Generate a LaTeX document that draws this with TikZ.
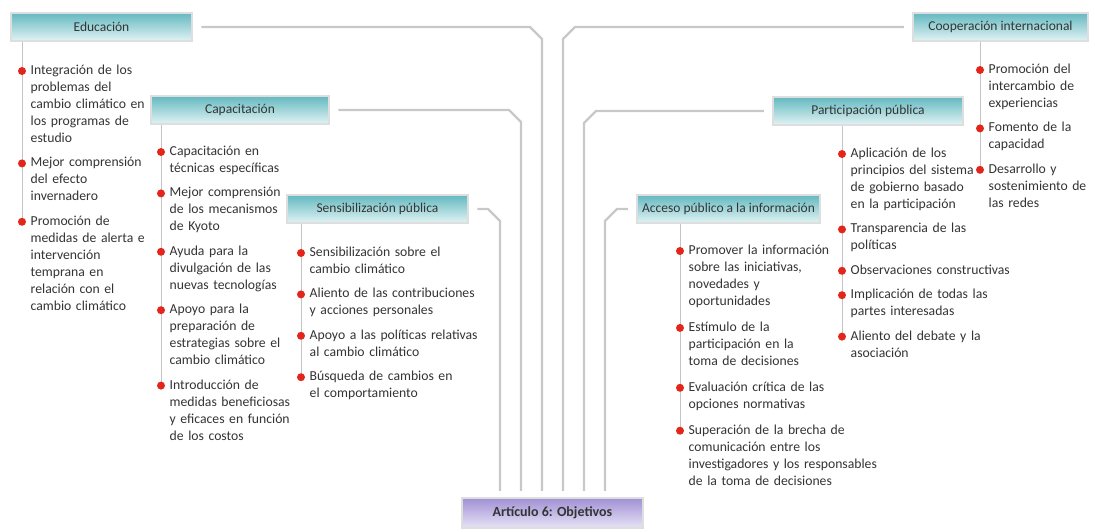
\documentclass[tikz,border=0pt]{standalone}
\usepackage{fontspec}
\setmainfont{Carlito}
\usepackage{tikz}
\usetikzlibrary{positioning}

\definecolor{tealtop}{RGB}{100,185,193}
\definecolor{tealbot}{RGB}{226,243,243}
\definecolor{lilatop}{RGB}{160,144,212}
\definecolor{lilabot}{RGB}{232,227,246}
\definecolor{linkgray}{RGB}{200,200,200}
\definecolor{stemgray}{RGB}{196,196,196}
\definecolor{dotred}{RGB}{226,38,28}
\definecolor{txtgray}{RGB}{52,52,52}

\tikzset{
  head/.style={rectangle, draw=black!13, line width=2.5pt, top color=tealtop, bottom color=tealbot,
    minimum height=28pt, inner sep=0pt, text=txtgray, font=\fontsize{13.5}{15}\selectfont},
  goal/.style={head, top color=lilatop, bottom color=lilabot, minimum height=30pt,
    font=\fontsize{14}{16}\selectfont\bfseries},
  item/.style={anchor=north west, align=left, text width=200pt, inner sep=0pt, text=txtgray,
    font=\fontsize{13.7}{17}\selectfont, execute at begin node=\noindent\strut, execute at end node=\strut},
  link/.style={draw=linkgray, line width=2.4pt},
  stem/.style={draw=stemgray, line width=0.8pt}
}

\begin{document}
\begin{tikzpicture}[x=1pt, y=-1pt]
  \fill[white] (0,0) rectangle (1095,531);
  \useasboundingbox (0,0) rectangle (1095,531);

  % headers
  \node[head, minimum width=181pt] (edu) at (101.5,27) {Educación};
  \node[head, minimum width=178pt] (cap) at (240,110) {Capacitación};
  \node[head, minimum width=181pt] (sen) at (377.5,209) {Sensibilización pública};
  \node[head, minimum width=183pt] (acc) at (728.5,209) {Acceso público a la información};
  \node[head, minimum width=190pt] (par) at (868,111) {Participación pública};
  \node[head, minimum width=175pt] (coo) at (1000.5,27) {Cooperación internacional};
  \node[goal, minimum width=181pt] (obj) at (552.5,513) {Artículo 6: Objetivos};

  % feet of the connectors
  \coordinate (bS) at ([shift={(-52.5pt,6pt)}]obj.north);
  \coordinate (bC) at ([shift={(-31.5pt,6pt)}]obj.north);
  \coordinate (bE) at ([shift={(-10.5pt,6pt)}]obj.north);
  \coordinate (bK) at ([shift={(10.5pt,6pt)}]obj.north);
  \coordinate (bP) at ([shift={(31.5pt,6pt)}]obj.north);
  \coordinate (bA) at ([shift={(52.5pt,6pt)}]obj.north);

  \draw[link] ([xshift=8pt]edu.east) -- ([xshift=-12pt]edu.east -| bE) -- ++(12pt,-12pt) -- (bE);
  \draw[link] ([xshift=8pt]cap.east) -- ([xshift=-12pt]cap.east -| bC) -- ++(12pt,-12pt) -- (bC);
  \draw[link] ([xshift=8pt]sen.east) -- ([xshift=-12pt]sen.east -| bS) -- ++(12pt,-12pt) -- (bS);
  \draw[link] ([xshift=-8pt]coo.west) -- ([xshift=12pt]coo.west -| bK) -- ++(-12pt,-12pt) -- (bK);
  \draw[link] ([xshift=-8pt]par.west) -- ([xshift=12pt]par.west -| bP) -- ++(-12pt,-12pt) -- (bP);
  \draw[link] ([xshift=-8pt]acc.west) -- ([xshift=12pt]acc.west -| bA) -- ++(-12pt,-12pt) -- (bA);

  % Educación
  \node[item] (e1) at (30.5,62.4) {Integración de los\\problemas del\\cambio climático en\\los programas de\\estudio};
  \node[item, below right=7pt and 0pt of e1.south west] (e2) {Mejor comprensión\\del efecto\\invernadero};
  \node[item, below right=7pt and 0pt of e2.south west] (e3) {Promoción de\\medidas de alerta e\\intervención\\temprana en\\relación con el\\cambio climático};

  % Capacitación
  \node[item] (c1) at (169.5,143.4) {Capacitación en\\técnicas específicas};
  \node[item, below right=7pt and 0pt of c1.south west] (c2) {Mejor comprensión\\de los mecanismos\\de Kyoto};
  \node[item, below right=7pt and 0pt of c2.south west] (c3) {Ayuda para la\\divulgación de las\\nuevas tecnologías};
  \node[item, below right=7pt and 0pt of c3.south west] (c4) {Apoyo para la\\preparación de\\estrategias sobre el\\cambio climático};
  \node[item, below right=7pt and 0pt of c4.south west] (c5) {Introducción de\\medidas beneficiosas\\y eficaces en función\\de los costos};

  % Sensibilización pública
  \node[item] (s1) at (309.5,244.4) {Sensibilización sobre el\\cambio climático};
  \node[item, below right=7pt and 0pt of s1.south west] (s2) {Aliento de las contribuciones\\y acciones personales};
  \node[item, below right=7pt and 0pt of s2.south west] (s3) {Apoyo a las políticas relativas\\al cambio climático};
  \node[item, below right=7pt and 0pt of s3.south west] (s4) {Búsqueda de cambios en\\el comportamiento};

  % Acceso público a la información
  \node[item] (a1) at (688.5,242.4) {Promover la información\\sobre las iniciativas,\\novedades y\\oportunidades};
  \node[item, below right=8.5pt and 0pt of a1.south west] (a2) {Estímulo de la\\participación en la\\toma de decisiones};
  \node[item, below right=8.5pt and 0pt of a2.south west] (a3) {Evaluación crítica de las\\opciones normativas};
  \node[item, below right=8.5pt and 0pt of a3.south west] (a4) {Superación de la brecha de\\comunicación entre los\\investigadores y los responsables\\de la toma de decisiones};

  % Participación pública
  \node[item] (p1) at (850.5,145.4) {Aplicación de los\\principios del sistema\\de gobierno basado\\en la participación};
  \node[item, below right=7pt and 0pt of p1.south west] (p2) {Transparencia de las\\políticas};
  \node[item, below right=7pt and 0pt of p2.south west] (p3) {Observaciones constructivas};
  \node[item, below right=7pt and 0pt of p3.south west] (p4) {Implicación de todas las\\partes interesadas};
  \node[item, below right=7pt and 0pt of p4.south west] (p5) {Aliento del debate y la\\asociación};

  % Cooperación internacional
  \node[item] (k1) at (988.5,61.4) {Promoción del\\intercambio de\\experiencias};
  \node[item, below right=7pt and 0pt of k1.south west] (k2) {Fomento de la\\capacidad};
  \node[item, below right=7pt and 0pt of k2.south west] (k3) {Desarrollo y\\sostenimiento de\\las redes};

  % bullets and stems
  \foreach \n in {e1,e2,e3,c1,c2,c3,c4,c5,s1,s2,s3,s4,a1,a2,a3,a4,p1,p2,p3,p4,p5,k1,k2,k3}
    \coordinate (d\n) at ([shift={(-8.5pt,-8.6pt)}]\n.north west);
  \draw[stem] (edu.south -| de1) -- (de3);
  \draw[stem] (cap.south -| dc1) -- (dc5);
  \draw[stem] (sen.south -| ds1) -- (ds4);
  \draw[stem] (acc.south -| da1) -- (da4);
  \draw[stem] (par.south -| dp1) -- (dp5);
  \draw[stem] (coo.south -| dk1) -- (dk3);
  \foreach \n in {e1,e2,e3,c1,c2,c3,c4,c5,s1,s2,s3,s4,a1,a2,a3,a4,p1,p2,p3,p4,p5,k1,k2,k3}
    \fill[dotred] (d\n) circle (4pt);
\end{tikzpicture}
\end{document}
